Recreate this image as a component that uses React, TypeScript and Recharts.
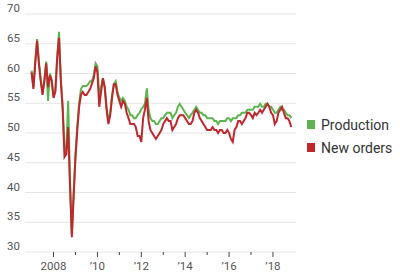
import React from 'react';
import { LineChart, Line, XAxis, YAxis, CartesianGrid } from 'recharts';

// monthly readings, Jan 2007 .. Nov 2018
const startYear = 2007;

const production = [
  60.5, 57.7, 62.0, 65.8, 62.0, 59.0, 56.7, 59.0, 62.0, 55.4, 60.0, 59.0,
  56.2, 57.2, 62.8, 67.0, 59.0, 54.5, 47.5, 47.0, 55.4, 42.0, 33.0, 40.0,
  46.5, 51.2, 55.0, 57.4, 57.9, 57.9, 57.9, 58.2, 58.7, 58.7, 59.7, 61.7,
  61.2, 56.4, 57.7, 59.2, 57.7, 54.4, 52.0, 53.4, 56.4, 58.2, 58.7, 56.9,
  55.9, 55.4, 55.9, 55.4, 54.4, 53.9, 53.0, 53.0, 52.5, 52.5, 53.0, 53.4,
  54.0, 54.4, 54.9, 57.5, 53.9, 52.5, 52.0, 52.0, 51.5, 51.5, 52.0, 52.5,
  52.5, 53.0, 53.4, 53.4, 53.4, 52.5, 53.0, 53.4, 54.4, 54.9, 54.4, 53.9,
  53.4, 53.0, 52.5, 53.0, 53.4, 53.9, 54.4, 53.9, 53.4, 53.4, 53.0, 53.0,
  52.5, 52.5, 52.5, 52.5, 52.0, 52.0, 51.5, 52.0, 52.0, 52.0, 52.0, 52.5,
  52.5, 52.0, 52.5, 52.5, 52.5, 53.0, 53.0, 53.4, 53.4, 53.4, 53.9, 53.9,
  53.9, 53.9, 54.4, 54.4, 54.4, 54.9, 54.4, 54.4, 54.9, 54.9, 54.4, 54.4,
  53.9, 53.4, 53.4, 53.9, 54.4, 53.9, 53.9, 53.4, 53.0, 53.0, 52.5,
];

const newOrders = [
  60.2, 57.4, 61.7, 65.5, 61.7, 58.7, 56.4, 58.7, 61.7, 57.7, 59.7, 58.7,
  55.9, 56.9, 62.5, 66.0, 58.7, 54.0, 46.0, 46.5, 51.0, 41.3, 32.5, 39.3,
  45.8, 50.5, 54.4, 56.4, 56.9, 56.4, 56.4, 56.9, 57.4, 58.3, 59.2, 61.2,
  60.2, 54.4, 56.9, 59.2, 57.7, 53.9, 51.5, 53.0, 55.9, 58.2, 58.2, 56.4,
  55.4, 54.4, 55.4, 54.9, 53.4, 52.5, 51.5, 51.5, 51.5, 51.0, 49.5, 49.5,
  48.5, 52.5, 54.0, 55.9, 52.0, 50.5, 50.0, 49.5, 49.0, 49.5, 50.0, 50.5,
  51.5, 52.0, 52.5, 52.0, 52.0, 50.5, 51.0, 51.5, 52.5, 53.0, 53.0, 53.0,
  52.5, 52.0, 51.5, 51.5, 52.0, 53.4, 53.9, 53.4, 52.5, 52.0, 51.5, 51.0,
  50.5, 50.5, 50.5, 51.0, 50.5, 50.5, 50.0, 50.5, 50.5, 50.0, 50.0, 50.5,
  50.0, 49.0, 48.5, 50.5, 51.0, 52.0, 52.0, 51.5, 52.0, 52.5, 53.4, 53.4,
  53.0, 52.5, 53.4, 53.0, 53.4, 53.9, 53.4, 53.9, 54.4, 54.9, 54.4, 53.4,
  53.0, 51.5, 52.0, 53.4, 53.9, 54.4, 53.4, 52.5, 52.5, 52.0, 51.0,
];

const yTicks = [30, 35, 40, 45, 50, 55, 60, 65, 70];
const xTicks = [2008, 2009, 2010, 2011, 2012, 2013, 2014, 2015, 2016, 2017, 2018];
const xLabels: Record<number, string> = {
  2008: '2008', 2010: '\u201910', 2012: '\u201912', 2014: '\u201914', 2016: '\u201916', 2018: '\u201918',
};

const GREEN = '#5cb54f';
const RED = '#c0272d';
const FONT = 'Roboto, "Noto Sans", sans-serif';

const data = production.map((p, i) => ({
  t: startYear + i / 12,
  production: p,
  newOrders: newOrders[i],
}));

const YTick = (props: any) => {
  const { y, payload } = props;
  return (
    <text x={7} y={y - 2} fill="#555" fontSize={11.5} fontFamily={FONT}>
      {payload.value}
    </text>
  );
};

const XTick = (props: any) => {
  const { x, y, payload } = props;
  const label = xLabels[payload.value];
  return (
    <g>
      <line x1={x} x2={x} y1={y} y2={y + (label ? 5 : 3)} stroke="#444" strokeWidth={1} />
      {label && (
        <text x={x} y={y + 18} textAnchor="middle" fill="#555" fontSize={11.5} fontFamily={FONT}>
          {label}
        </text>
      )}
    </g>
  );
};

const LegendRow = ({ color, text }: { color: string; text: string }) => (
  <div style={{ display: 'flex', alignItems: 'center', height: 23 }}>
    <span style={{ width: 8, height: 9, background: color, marginRight: 6 }} />
    <span style={{ fontSize: 14, color: '#333', fontFamily: FONT }}>{text}</span>
  </div>
);

export default function App() {
  return (
    <div style={{ position: 'absolute', left: 0, top: 0, width: 400, height: 280, background: '#fff' }}>
      <LineChart width={400} height={280} data={data} margin={{ top: 14, right: 104, bottom: 0, left: 0 }}>
        <CartesianGrid vertical={false} stroke="#e4e4e4" />
        <XAxis
          dataKey="t"
          type="number"
          domain={[2006.7, 2019.05]}
          ticks={xTicks}
          axisLine={false}
          tickLine={false}
          tickSize={0}
          tickMargin={0}
          tick={<XTick />}
          height={28}
          interval={0}
        />
        <YAxis
          domain={[30, 70]}
          ticks={yTicks}
          axisLine={false}
          tickLine={false}
          tickSize={0}
          tickMargin={0}
          tick={<YTick />}
          width={25}
          interval={0}
        />
        <Line type="linear" dataKey="production" stroke={GREEN} strokeWidth={2} dot={false} isAnimationActive={false} />
        <Line type="linear" dataKey="newOrders" stroke={RED} strokeWidth={2} dot={false} isAnimationActive={false} />
      </LineChart>
      <div style={{ position: 'absolute', left: 307, top: 113 }}>
        <LegendRow color={GREEN} text="Production" />
        <LegendRow color={RED} text="New orders" />
      </div>
    </div>
  );
}
